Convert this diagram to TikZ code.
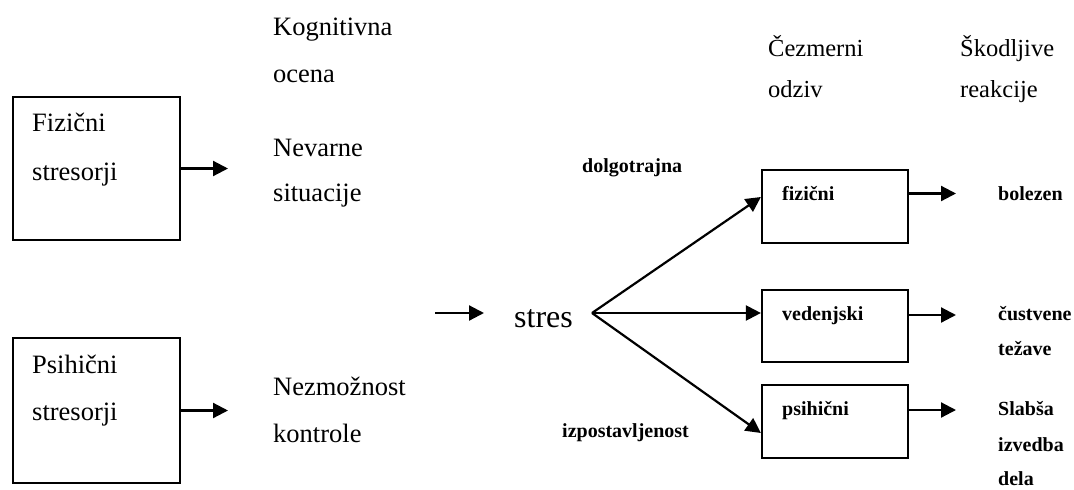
\documentclass[tikz,border=0pt]{standalone}
\usepackage{fontspec}
\setmainfont{Liberation Serif}
\usetikzlibrary{arrows.meta}
\begin{document}
\begin{tikzpicture}[x=1pt,y=-1pt,
  box/.style={draw,line width=2.2pt,inner sep=0pt},
  big/.style={font=\fontsize{26.5}{30}\selectfont,anchor=base west,inner sep=0pt},
  head/.style={font=\fontsize{24.5}{28}\selectfont,anchor=base west,inner sep=0pt},
  small/.style={font=\bfseries\fontsize{20}{24}\selectfont,anchor=base west,inner sep=0pt},
  arr/.style={line width=2.2pt,-{Triangle[length=15pt,width=15pt]}}]
\useasboundingbox[fill=white] (0,0) rectangle (1074,490);

% left boxes
\node[box,minimum width=167pt,minimum height=143pt] (b1) at (96.5,168.5) {};
\node[box,minimum width=167pt,minimum height=145pt] (b2) at (96.5,410.5) {};
\node[big] (t1a) at (32,131) {Fizični};
\node[big] (t1b) at (32,180) {stresorji};
\node[big] (t2a) at (32,373) {Psihični};
\node[big] (t2b) at (32,420) {stresorji};

% cognitive column
\node[big] (kg1) at (273,35) {Kognitivna};
\node[big] (kg2) at (273,82) {ocena};
\node[big] (nv1) at (273,156) {Nevarne};
\node[big] (nv2) at (273,201) {situacije};
\node[big] (nz1) at (273,395) {Nezmožnost};
\node[big] (nz2) at (273,442) {kontrole};

\coordinate (e1) at (228,168.5);
\coordinate (e2) at (228,410.5);
\draw[arr] (b1.east) -- (e1);
\draw[arr] (b2.east) -- (e2);

% stres
\coordinate (s0) at (435,313);
\coordinate (s1) at (484,313);
\draw[arr] (s0) -- (s1);
\node[font=\fontsize{32}{36}\selectfont,anchor=base west,inner sep=0pt] (st) at (514,327) {stres};
\coordinate (j) at (592,313);
\node[small] (dl) at (582,172) {dolgotrajna};
\node[small] (iz) at (562,437) {izpostavljenost};

% response boxes
\node[box,minimum width=146pt,minimum height=73pt] (fz) at (835,206.5) {};
\node[box,minimum width=146pt,minimum height=72pt] (vd) at (835,326) {};
\node[box,minimum width=146pt,minimum height=73pt] (ps) at (835,421.5) {};
\node[small] (fzt) at (782,200) {fizični};
\node[small] (vdt) at (782,320) {vedenjski};
\node[small] (pst) at (782,415) {psihični};

\draw[arr] (j) -- ([yshift=9.5pt]fz.west);
\draw[arr] (j) -- ([yshift=13pt]vd.west);
\draw[arr] (j) -- ([yshift=-11.5pt]ps.west);

% headers
\node[head] (cz1) at (768,56) {Čezmerni};
\node[head] (cz2) at (768,97) {odziv};
\node[head] (sk1) at (960,56) {Škodljive};
\node[head] (sk2) at (960,97) {reakcije};

% outcome arrows
\coordinate (o1) at (956,193.5);
\coordinate (o2) at (956,315);
\coordinate (o3) at (956,410);
\draw[arr] ([yshift=13pt]fz.east) -- (o1);
\draw[arr] ([yshift=11pt]vd.east) -- (o2);
\draw[arr] ([yshift=11.5pt]ps.east) -- (o3);

\node[small] (r1) at (998,200) {bolezen};
\node[small] (r2a) at (998,320) {čustvene};
\node[small] (r2b) at (998,355) {težave};
\node[small] (r3a) at (998,415) {Slabša};
\node[small] (r3b) at (998,451) {izvedba};
\node[small] (r3c) at (998,485) {dela};
\end{tikzpicture}
\end{document}
